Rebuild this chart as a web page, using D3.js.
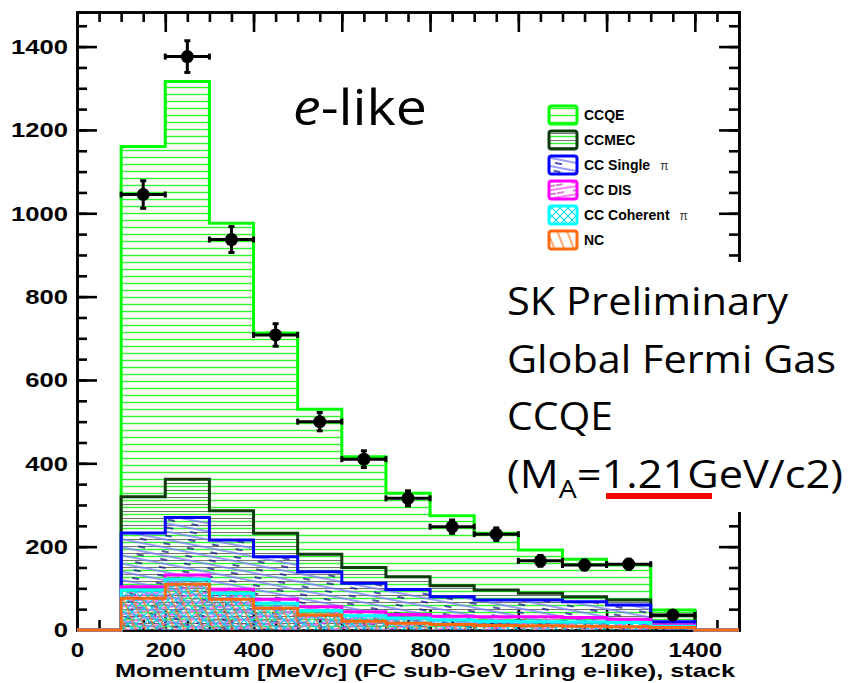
<!DOCTYPE html>
<html><head><meta charset="utf-8">
<script src="https://cdn.jsdelivr.net/npm/d3@7"></script>
<style>
body{margin:0;background:#fff;}
svg{display:block;}
.ax text{font-family:"Liberation Sans",Arial,sans-serif;font-weight:bold;font-size:21px;fill:#000;}
.ax.xb text{transform-box:fill-box;transform-origin:center;transform:scaleX(1.15);}
.ax.yl text{transform-box:fill-box;transform-origin:100% 50%;transform:scaleX(1.22);}
.ax path,.ax line{stroke:#000;}
</style></head><body>
<svg id="c" width="848" height="683"></svg>
<script>
// bin edges (MeV/c), first and last bins are empty
var edges = [0,100,200,300,400,500,600,700,800,900,1000,1100,1200,1300,1400,1500];
// MC components, per bin, bottom of stack first
var nc       = [0,76,110,74,52,36,21,16,13,11,10,9,8,6,0];
var ccCoh    = [0,20,12,14,12,11,13,12,11,10,10,10,10,3,0];
var ccDis    = [0,8,10,10,10,9,10,9,9,11,12,11,8,3,0];
var ccSingle = [0,129,138,118,102,84,68,60,47,40,40,38,34,8,0];
var ccMec    = [0,87,92,70,56,42,38,31,26,24,16,12,12,14,0];
var ccqe     = [0,840,954,690,481,348,266,200,168,136,104,90,84,14,0];
// data points
var dataX   = [150,250,350,450,550,650,750,850,950,1050,1150,1250,1350];
var dataY   = [1045,1376,937,708,500,410,316,248,230,166,156,158,36];
var dataErr = [33,38,31,27,22,20,18,16,15,13,12,12,6];
var xTicks = [0,200,400,600,800,1000,1200,1400];
var yTicks = [0,200,400,600,800,1000,1200,1400];
var legendNames = ["CCQE","CCMEC","CC Single","CC DIS","CC Coherent","NC"];

var svg = d3.select("#c");
var x = d3.scaleLinear().domain([0,1500]).range([77,739]);
var y = d3.scaleLinear().domain([0,1483]).range([630,12]);
var minor = d3.range(0,1501,50);
var minorY = d3.range(0,1481,50);

// patterns
var defs = svg.append("defs");
function hpat(id, h, w, rot, lines){
  var p = defs.append("pattern").attr("id",id).attr("patternUnits","userSpaceOnUse")
    .attr("width",w).attr("height",h);
  if(rot) p.attr("patternTransform","rotate("+rot+")");
  lines.forEach(function(l){
    var ln = p.append("line").attr("x1",0).attr("x2",w).attr("y1",l.y).attr("y2",l.y)
      .attr("stroke",l.c).attr("stroke-width",l.w);
    if(l.dash) ln.attr("stroke-dasharray",l.dash);
  });
}
hpat("p-qe",7,10,0,[{y:3.5,c:"#33f533",w:1.4}]);
hpat("p-mec",7,10,0,[{y:0.5,c:"#6c7a6c",w:1.1}]);
hpat("p-spi",8,48,11,[{y:2,c:"#7a7aff",w:1.3},{y:6,c:"#1a1a90",w:1.3,dash:"7,17"}]);
hpat("p-dis",8,40,-9,[{y:2,c:"#ff55ff",w:1.4},{y:6,c:"#aa00aa",w:1.2,dash:"7,9"}]);
var pc = defs.append("pattern").attr("id","p-coh").attr("patternUnits","userSpaceOnUse").attr("width",8).attr("height",8);
pc.append("path").attr("d","M0,0L8,8M8,0L0,8").attr("stroke","#00d8e8").attr("stroke-width",1.1);
hpat("p-nc",9,12,68,[{y:2,c:"#ff7a20",w:1.3}]);

// axes (drawn first, ticks show through the hatching)
function ax(gen, cls, tr){ return svg.append("g").attr("class","ax "+cls).attr("transform",tr).call(gen); }
ax(d3.axisBottom(x).tickValues(minor).tickSize(-10).tickFormat(""), "xm", "translate(0,630)");
ax(d3.axisBottom(x).tickValues(xTicks).tickSizeInner(-20).tickSizeOuter(0).tickPadding(12).tickFormat(d3.format("d")), "xb", "translate(0,630)");
ax(d3.axisTop(x).tickValues(minor).tickSize(-10).tickFormat(""), "xt", "translate(0,12)");
ax(d3.axisTop(x).tickValues(xTicks).tickSizeInner(-20).tickSizeOuter(0).tickFormat(""), "xt", "translate(0,12)");
ax(d3.axisLeft(y).tickValues(minorY).tickSize(-10).tickFormat(""), "ym", "translate(77,0)");
ax(d3.axisLeft(y).tickValues(yTicks).tickSizeInner(-20).tickSizeOuter(0).tickPadding(9).tickFormat(d3.format("d")), "yl", "translate(77,0)");
ax(d3.axisRight(y).tickValues(minorY).tickSize(-10).tickFormat(""), "yr", "translate(739,0)");
ax(d3.axisRight(y).tickValues(yTicks).tickSizeInner(-20).tickSizeOuter(0).tickFormat(""), "yr", "translate(739,0)");
svg.selectAll(".ax path.domain").attr("stroke-width",2.6);
svg.selectAll(".ax .tick line").attr("stroke-width",2.6);
svg.selectAll(".xt .tick, .xm .tick, .yr .tick, .ym .tick").filter(function(d){return d===0||d===1500;}).remove();

// stacked histograms
var rows = edges.slice(0,-1).map(function(e,i){
  return {x0:e, x1:edges[i+1], nc:nc[i], coh:ccCoh[i], dis:ccDis[i], spi:ccSingle[i], mec:ccMec[i], qe:ccqe[i]};
});
var keys = ["nc","coh","dis","spi","mec","qe"];
var stack = d3.stack().keys(keys)(rows);
var style = {
  qe:{pat:"p-qe",col:"#00ff00"}, mec:{pat:"p-mec",col:"#0d3b0d"}, spi:{pat:"p-spi",col:"#0000ff"},
  dis:{pat:"p-dis",col:"#ff00ff"}, coh:{pat:"p-coh",col:"#00ffff"}, nc:{pat:"p-nc",col:"#ff6a10"}
};
function stepPath(layer, closed){
  var p = "M"+x(0)+","+y(0);
  layer.forEach(function(s){
    p += "L"+x(s.data.x0)+","+y(s[1])+"L"+x(s.data.x1)+","+y(s[1]);
  });
  p += "L"+x(1500)+","+y(0);
  if(closed) p += "Z";
  return p;
}
stack.slice().reverse().forEach(function(layer){
  var st = style[layer.key];
  svg.append("path").attr("d",stepPath(layer,true)).attr("fill","url(#"+st.pat+")").attr("stroke","none");
  svg.append("path").attr("d",stepPath(layer,false)).attr("fill","none")
    .attr("stroke",st.col).attr("stroke-width",3).attr("stroke-linejoin","miter");
});

// data points with error bars
var pts = svg.append("g").attr("stroke","#000").attr("stroke-width",3);
dataX.forEach(function(d,i){
  var cx = x(d), cy = y(dataY[i]);
  var xl = x(d-50), xr = x(d+50), yt = y(dataY[i]+dataErr[i]), yb = y(dataY[i]-dataErr[i]);
  pts.append("line").attr("x1",xl).attr("x2",xr).attr("y1",cy).attr("y2",cy);
  pts.append("line").attr("x1",xl).attr("x2",xl).attr("y1",cy-3).attr("y2",cy+3);
  pts.append("line").attr("x1",xr).attr("x2",xr).attr("y1",cy-3).attr("y2",cy+3);
  pts.append("line").attr("x1",cx).attr("x2",cx).attr("y1",yt).attr("y2",yb);
  pts.append("line").attr("x1",cx-3).attr("x2",cx+3).attr("y1",yt).attr("y2",yt);
  pts.append("line").attr("x1",cx-3).attr("x2",cx+3).attr("y1",yb).attr("y2",yb);
  pts.append("circle").attr("cx",cx).attr("cy",cy).attr("r",6.5).attr("fill","#000").attr("stroke","none");
});

// axis title
svg.append("text").attr("x",735).attr("y",677).attr("text-anchor","end")
  .attr("textLength",620).attr("lengthAdjust","spacingAndGlyphs")
  .style("font-family","'Liberation Sans',Arial,sans-serif").style("font-weight","bold").style("font-size","19px")
  .text("Momentum [MeV/c] (FC sub-GeV 1ring e-like), stack");

// legend
var legPat = ["p-qe","p-mec","p-spi","p-dis","p-coh","p-nc"];
var legCol = ["#00ff00","#0d3b0d","#0000ff","#ff00ff","#00ffff","#ff6a10"];
var leg = svg.append("g");
legendNames.forEach(function(n,i){
  var cy = 115 + i*25;
  if(i===1){ leg.append("rect").attr("x",549).attr("y",cy-9).attr("width",28).attr("height",18).attr("fill","url(#p-qe)"); }
  leg.append("rect").attr("x",549).attr("y",cy-9).attr("width",28).attr("height",18).attr("rx",2.5)
    .attr("fill","url(#"+legPat[i]+")").attr("stroke",legCol[i]).attr("stroke-width",3);
  var t = leg.append("text").attr("x",584).attr("y",cy+5)
    .style("font-family","'Liberation Sans',Arial,sans-serif").style("font-weight","bold").style("font-size","14px")
    .text(n);
  if(n==="CC Single"||n==="CC Coherent"){
    t.append("tspan").attr("dx",10).style("font-weight","normal").style("font-size","12px").attr("fill","#333").text("π");
  }
});

// white box over the right side of the frame
svg.append("rect").attr("x",490).attr("y",262).attr("width",358).attr("height",250).attr("fill","#fff");

// annotations
var ff = "'Open Sans',Lato,sans-serif";
var el = svg.append("text").attr("x",293).attr("y",125).attr("textLength",134).attr("lengthAdjust","spacingAndGlyphs")
  .style("font-family",ff).style("font-size","50px");
el.append("tspan").style("font-style","italic").text("e");
el.append("tspan").text("-like");

var lines = ["SK Preliminary","Global Fermi Gas","CCQE"];
var lineW = [281,329,106];
lines.forEach(function(l,i){
  svg.append("text").attr("x",507).attr("y",315+i*57.5).attr("textLength",lineW[i]).attr("lengthAdjust","spacingAndGlyphs")
    .style("font-family",ff).style("font-size","38px").text(l);
});
var last = svg.append("text").attr("x",507).attr("y",488).attr("textLength",336).attr("lengthAdjust","spacingAndGlyphs")
  .style("font-family",ff).style("font-size","38px");
last.append("tspan").text("(M");
last.append("tspan").attr("dy",10).style("font-size","25px").text("A");
last.append("tspan").attr("dy",-10).text("=1.21GeV/c2)");
svg.append("rect").attr("x",606).attr("y",493).attr("width",106).attr("height",6).attr("fill","#ff0000");
</script></body></html>
